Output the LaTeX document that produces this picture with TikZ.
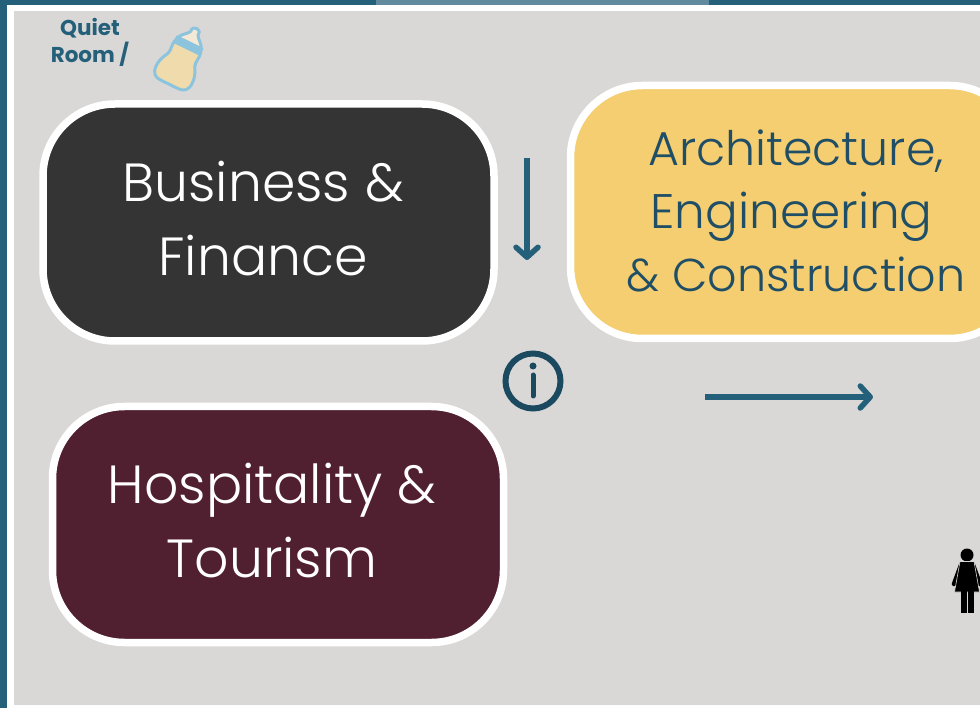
\documentclass[tikz,border=0pt]{standalone}
\usepackage{fontspec}
\setmainfont{Poppins Light}
\newfontfamily\boldfam{Poppins Bold}
\usetikzlibrary{arrows.meta}
\definecolor{teal}{HTML}{25607A}
\definecolor{tealpale}{HTML}{628A9E}
\definecolor{navy}{HTML}{1F4E66}
\definecolor{ringnavy}{HTML}{1B4A60}
\definecolor{panelgray}{HTML}{D9D8D6}
\definecolor{charcoal}{HTML}{343434}
\definecolor{maroon}{HTML}{501F30}
\definecolor{gold}{HTML}{F4CE70}
\definecolor{bottleblue}{HTML}{8CC4DE}
\definecolor{milk}{HTML}{F0DBAC}
\definecolor{capcream}{HTML}{F4E9D6}
\tikzset{
  x=1pt,y=-1pt,
  zonebox/.style={draw=white,line width=7.5pt,rounded corners=72pt,minimum width=451pt,inner sep=0pt},
  zonetext/.style={align=center,inner sep=0pt,font=\fontsize{53.7}{74}\selectfont},
  wayarrow/.style={draw=teal,line width=5.5pt,-{Straight Barb[length=10pt,width=22pt,line width=5.5pt,round]}},
  roomlabel/.style={text=teal,font=\boldfam\fontsize{21.5}{27.5}\selectfont,align=center,inner sep=0pt}
}
\begin{document}
\begin{tikzpicture}
\useasboundingbox (0,0) rectangle (980,708);
\clip (0,0) rectangle (980,708);
% frame
\fill[teal] (0,0) rectangle (980,708);
\fill[tealpale] (376,0) rectangle (709,5);
\fill[white] (7,5) rectangle (980,708);
\fill[panelgray] (14,11) rectangle (980,705);
% zones
\node[zonebox,fill=charcoal,minimum height=237pt] (business) at (268.5,222.5) {};
\node[zonetext,text=white] (businesstext) at (263,218.5) {Business \&\\Finance};
\node[zonebox,fill=maroon,minimum height=236pt] (hospitality) at (278,524.5) {};
\node[zonetext,text=white] (hospitalitytext) at (272,521) {Hospitality \&\\Tourism};
\node[zonebox,fill=gold,minimum height=253pt] (arch) at (796,212) {};
\node[zonetext,text=navy,font=\fontsize{46}{63}\selectfont] (archtext) at (796,210.5) {{\fontsize{47.5}{63}\selectfont Architecture,}\\{\fontsize{48.5}{63}\selectfont Engineering\hspace*{9pt}\null}\\\& Construction};
% quiet room
\node[roomlabel] (quiet) at (90,42.5) {Quiet\\Room /};
% bottle
\begin{scope}[shift={(183,56.5)},rotate=-26]
  \path[draw=bottleblue,line width=3pt,fill=milk,line join=round]
    (-14,-12) -- (14,-12) .. controls (16,-5) and (13,-1) .. (15,4)
    .. controls (17,8) and (20,12) .. (20,20)
    .. controls (20,28) and (16,31) .. (10,31)
    -- (-10,31) .. controls (-16,31) and (-20,28) .. (-20,20)
    .. controls (-20,12) and (-17,8) .. (-15,4)
    .. controls (-13,-1) and (-16,-5) .. (-14,-12) -- cycle;
  \path[draw=bottleblue,line width=3pt,fill=capcream,line join=round]
    (-13,-15) .. controls (-11,-20) and (-6,-22) .. (-4,-26)
    .. controls (-6,-33) and (6,-33) .. (4,-26)
    .. controls (6,-22) and (11,-20) .. (13,-15) -- cycle;
  \fill[bottleblue] (-15,-16) rectangle (15,-8);
\end{scope}
% connectors
\coordinate (downstart) at (527,158);
\coordinate (downend) at (527,260);
\coordinate (rightstart) at (705,397);
\coordinate (rightend) at (873,397);
\draw[wayarrow] (downstart) -- (downend);
\draw[wayarrow] (rightstart) -- (rightend);
% info icon
\node[circle,draw=ringnavy,line width=6pt,minimum size=55pt,inner sep=0pt] (info) at (533,381) {};
\draw[ringnavy,line width=5pt,line cap=round] (533,375) -- (533,396);
\fill[ringnavy] (533,366) circle (3.5);
% woman
\fill[black] (967,555) circle (6.5);
\draw[black,line width=4.5pt,line cap=round] (961,565) -- (954,584);
\draw[black,line width=4.5pt,line cap=round] (973,565) -- (980,584);
\fill[black,draw=panelgray,line width=0.6pt] (960,561.5) -- (974,561.5) -- (979.5,592) -- (954.5,592) -- cycle;
\fill[black] (961,591) rectangle (966.5,613);
\fill[black] (968,591) rectangle (973.5,613);
\end{tikzpicture}
\end{document}
